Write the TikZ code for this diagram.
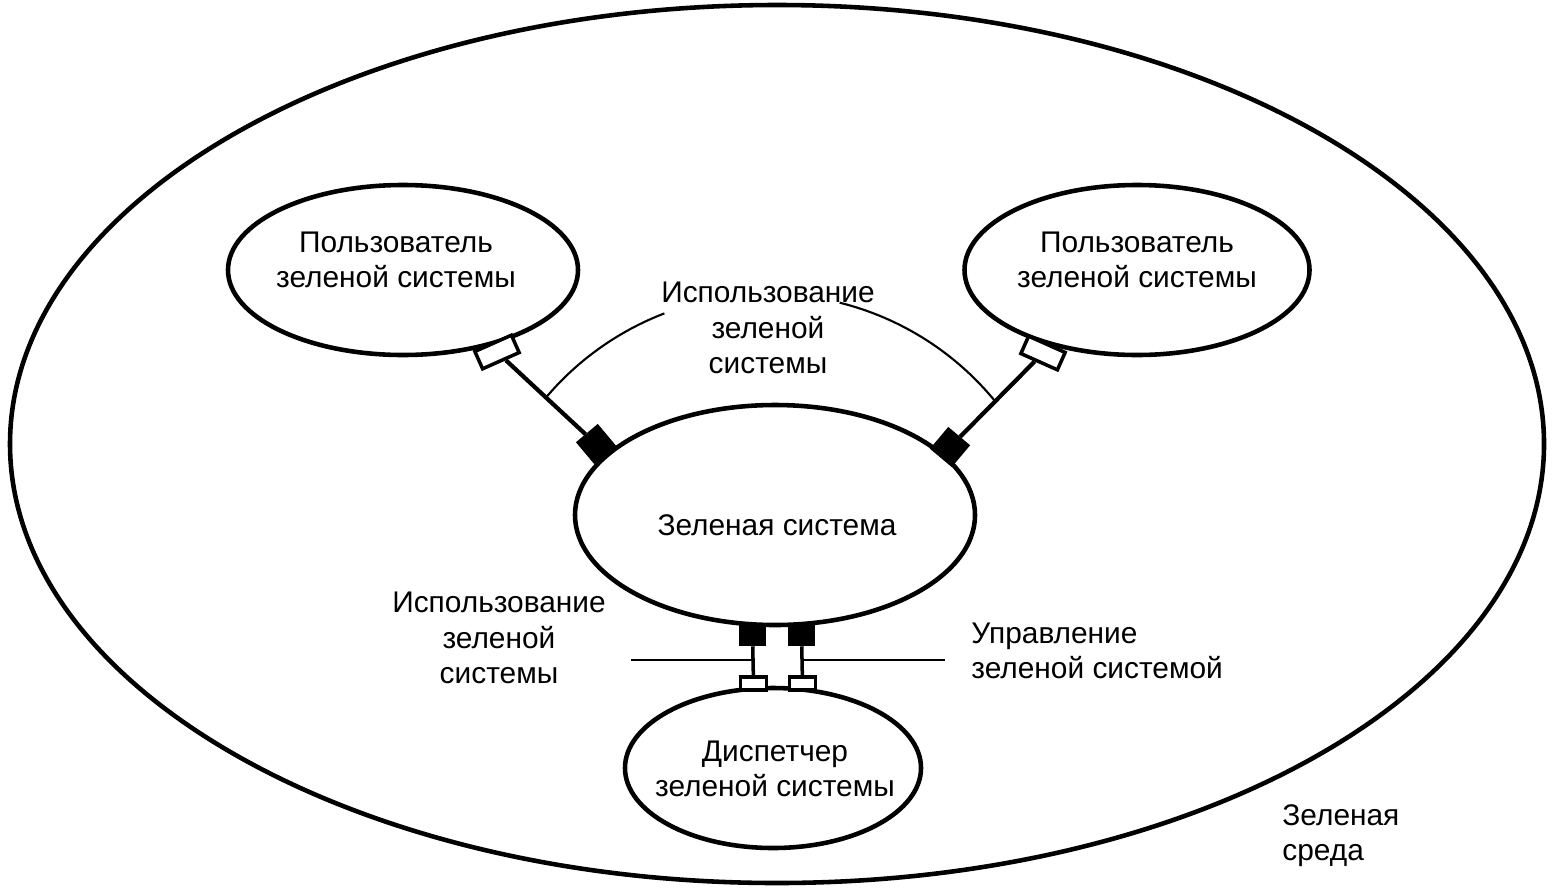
\documentclass[tikz,border=0pt]{standalone}
\usepackage{fontspec}
\setmainfont{Liberation Sans}
\usetikzlibrary{shapes.geometric}
\begin{document}
\begin{tikzpicture}[
    actor/.style={ellipse, draw, line width=1.3pt, inner sep=0pt},
    label/.style={font=\fontsize{8.5}{10}\selectfont, align=center},
    openport/.style={rectangle, draw, line width=1pt, fill=white, inner sep=0pt},
    fillport/.style={rectangle, draw, line width=1pt, fill=black, inner sep=0pt},
    link/.style={line width=1.2pt},
    note/.style={line width=0.6pt}
]
    \useasboundingbox (0,0) rectangle (15.54,8.88);

    % Environment
    \node[actor, minimum width=15.34cm, minimum height=8.78cm] (env) at (7.77, 4.44) {};
    \node[label, align=left, anchor=west] (envlbl) at (12.70, 0.52) {Зеленая\\среда};

    % Users
    \node[actor, minimum width=3.50cm, minimum height=1.70cm] (user1) at (4.03, 6.18) {};
    \node[label] (user1lbl) at (3.96, 6.28) {Пользователь\\зеленой системы};
    \node[actor, minimum width=3.45cm, minimum height=1.70cm] (user2) at (11.37, 6.18) {};
    \node[label] (user2lbl) at (11.37, 6.28) {Пользователь\\зеленой системы};

    % Green system
    \node[actor, minimum width=4.00cm, minimum height=2.20cm] (sys) at (7.75, 3.73) {};
    \node[label] (syslbl) at (7.77, 3.63) {Зеленая система};

    % Dispatcher
    \node[actor, minimum width=2.96cm, minimum height=1.60cm] (disp) at (7.73, 1.20) {};
    \node[label] (displbl) at (7.75, 1.19) {Диспетчер\\зеленой системы};

    % Ports of the upper links
    \node[openport, minimum width=0.40cm, minimum height=0.19cm, rotate=24] (po1) at (4.97, 5.36) {};
    \node[fillport, minimum width=0.25cm, minimum height=0.25cm, rotate=40] (pf1) at (5.96, 4.44) {};
    \node[openport, minimum width=0.40cm, minimum height=0.19cm, rotate=-24] (po2) at (10.43, 5.35) {};
    \node[fillport, minimum width=0.25cm, minimum height=0.25cm, rotate=-40] (pf2) at (9.50, 4.41) {};
    \draw[link] (po1) -- (pf1);
    \draw[link] (po2) -- (pf2);

    % Upper interface arcs
    \coordinate (arcc) at (7.69, 3.02);
    \draw[note] ([shift={(140:2.92)}]arcc) arc[start angle=140, end angle=111, radius=2.92];
    \draw[note] ([shift={(76:2.92)}]arcc) arc[start angle=76, end angle=39, radius=2.92];
    \node[label] (uselbl) at (7.68, 5.60) {Использование\\зеленой\\системы};

    % Ports of the lower links
    \node[fillport, minimum width=0.24cm, minimum height=0.19cm] (pf3) at (7.525, 2.53) {};
    \node[fillport, minimum width=0.24cm, minimum height=0.19cm] (pf4) at (8.015, 2.53) {};
    \node[openport, minimum width=0.26cm, minimum height=0.13cm] (po3) at (7.535, 2.045) {};
    \node[openport, minimum width=0.26cm, minimum height=0.13cm] (po4) at (8.025, 2.045) {};
    \draw[line width=1pt] (pf3) -- (po3);
    \draw[line width=1pt] (pf4) -- (po4);

    % Lower interface lines
    \coordinate (hl) at (6.31, 2.28);
    \coordinate (hr) at (9.45, 2.28);
    \draw[note] (hl) -- (po3 |- hl);
    \draw[note] (hr) -- (po4 |- hr);
    \node[label] (use2lbl) at (4.99, 2.50) {Использование\\зеленой\\системы};
    \node[label, align=left, anchor=west] (ctrllbl) at (9.59, 2.37) {Управление\\зеленой системой};
\end{tikzpicture}
\end{document}
